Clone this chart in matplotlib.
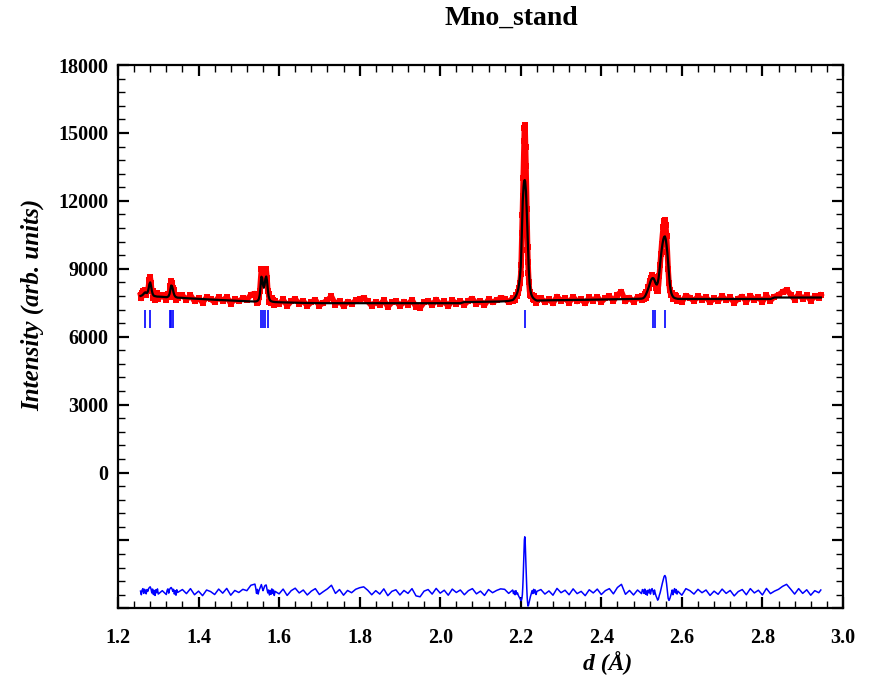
import numpy as np
import matplotlib.pyplot as plt
from matplotlib.ticker import MultipleLocator, FixedLocator, FixedFormatter

plt.rcParams['font.family'] = ['Liberation Serif', 'DejaVu Serif']
plt.rcParams['font.weight'] = 'bold'

# d-spacing grid (A), finer around the reflections
d_spacing = [
    # 1.28 group
    1.256, 1.258, 1.260, 1.262, 1.264, 1.266, 1.268, 1.270, 1.272, 1.274, 1.276, 1.278,
    1.280, 1.282, 1.284, 1.286, 1.288, 1.290, 1.292, 1.294, 1.296, 1.298, 1.300,
    1.310,
    # 1.33 group
    1.320, 1.322, 1.324, 1.326, 1.328, 1.330, 1.332, 1.334, 1.336, 1.338, 1.340, 1.342,
    1.344, 1.346, 1.348,
    1.36, 1.37, 1.38, 1.39, 1.40, 1.41, 1.42, 1.43, 1.44, 1.45, 1.46, 1.47, 1.48, 1.49,
    1.50, 1.51, 1.52, 1.53,
    # 1.56 doublet
    1.540, 1.542, 1.544, 1.546, 1.548, 1.550, 1.552, 1.554, 1.556, 1.558, 1.560, 1.562,
    1.564, 1.566, 1.568, 1.570, 1.572, 1.574, 1.576, 1.578, 1.580, 1.582, 1.584, 1.586,
    1.588, 1.590,
    1.60, 1.61, 1.62, 1.63, 1.64, 1.65, 1.66, 1.67, 1.68, 1.69, 1.70, 1.71, 1.72, 1.73,
    1.74, 1.75, 1.76, 1.77, 1.78, 1.79, 1.80, 1.81, 1.82, 1.83, 1.84, 1.85, 1.86, 1.87,
    1.88, 1.89, 1.90, 1.91, 1.92, 1.93, 1.94, 1.95, 1.96, 1.97, 1.98, 1.99, 2.00, 2.01,
    2.02, 2.03, 2.04, 2.05, 2.06, 2.07, 2.08, 2.09, 2.10, 2.11, 2.12, 2.13, 2.14, 2.15,
    2.16, 2.17,
    # main peak 2.21
    2.180, 2.182, 2.184, 2.186, 2.188, 2.190, 2.192, 2.194, 2.196, 2.198,
    2.200, 2.201, 2.202, 2.203, 2.204, 2.205, 2.206, 2.207, 2.208, 2.209, 2.210, 2.211,
    2.212, 2.213, 2.214, 2.215, 2.216, 2.217, 2.218, 2.219, 2.220,
    2.222, 2.224, 2.226, 2.228, 2.230, 2.232, 2.234, 2.236, 2.238, 2.240,
    2.25, 2.26, 2.27, 2.28, 2.29, 2.30, 2.31, 2.32, 2.33, 2.34, 2.35, 2.36, 2.37, 2.38,
    2.39, 2.40, 2.41, 2.42, 2.43, 2.44, 2.45, 2.46, 2.47, 2.48, 2.49,
    # 2.53 / 2.56 peaks
    2.500, 2.502, 2.504, 2.506, 2.508, 2.510, 2.512, 2.514, 2.516, 2.518,
    2.520, 2.522, 2.524, 2.526, 2.528, 2.530, 2.532, 2.534, 2.536, 2.538,
    2.540, 2.542, 2.544, 2.546, 2.548, 2.550, 2.552, 2.554, 2.556, 2.558,
    2.560, 2.562, 2.564, 2.566, 2.568, 2.570, 2.572, 2.574, 2.576, 2.578,
    2.580, 2.582, 2.584, 2.586, 2.588, 2.590,
    2.60, 2.61, 2.62, 2.63, 2.64, 2.65, 2.66, 2.67, 2.68, 2.69, 2.70, 2.71, 2.72, 2.73,
    2.74, 2.75, 2.76, 2.77, 2.78, 2.79, 2.80, 2.81, 2.82, 2.83, 2.84, 2.85, 2.86, 2.87,
    2.88, 2.89, 2.90, 2.91, 2.92, 2.93, 2.94, 2.945,
]

# calculated profile
i_calc = [
    7800, 7810, 7830, 7860, 7900, 7940, 7960, 7940, 7930, 7980, 8120, 8320,
    8400, 8250, 8040, 7900, 7830, 7800, 7790, 7780, 7775, 7770, 7770,
    7760,
    7745, 7750, 7765, 7800, 7890, 8080, 8260, 8240, 8110, 7950, 7840, 7780,
    7750, 7735, 7725,
    7715, 7700, 7690, 7680, 7670, 7660, 7650, 7640, 7632, 7625, 7615, 7605, 7598, 7590,
    7580, 7572, 7565, 7558,
    7555, 7560, 7565, 7580, 7610, 7680, 7850, 8250, 8650, 8600, 8300, 8160,
    8280, 8560, 8660, 8480, 8080, 7800, 7660, 7600, 7570, 7555, 7545, 7540,
    7535, 7530,
    7520, 7515, 7510, 7505, 7500, 7495, 7490, 7488, 7485, 7482, 7480, 7480, 7480, 7480,
    7480, 7480, 7480, 7480, 7480, 7480, 7480, 7480, 7480, 7480, 7480, 7480, 7480, 7480,
    7480, 7480, 7480, 7480, 7480, 7480, 7480, 7480, 7480, 7480, 7480, 7480, 7480, 7480,
    7480, 7480, 7480, 7480, 7530, 7530, 7532, 7535, 7538, 7540, 7542, 7545, 7550, 7555,
    7565, 7580,
    7620, 7650, 7690, 7740, 7800, 7880, 7980, 8120, 8350, 8650,
    9100, 9550, 10150, 10850, 11500, 12000, 12350, 12620, 12800, 12900, 12920, 12850,
    12650, 12400, 12000, 11500, 11000, 10450, 9900, 9400, 8950,
    8350, 8050, 7880, 7790, 7730, 7690, 7660, 7630, 7610, 7595,
    7600, 7605, 7608, 7610, 7612, 7615, 7618, 7620, 7622, 7625, 7628, 7630, 7632, 7635,
    7638, 7640, 7642, 7645, 7648, 7650, 7652, 7655, 7658, 7662, 7670,
    7680, 7690, 7700, 7730, 7770, 7830, 7910, 8000, 8100, 8200,
    8320, 8430, 8520, 8575, 8590, 8570, 8500, 8400, 8320, 8300,
    8380, 8560, 8850, 9200, 9550, 9850, 10100, 10300, 10410, 10430,
    10300, 10050, 9700, 9250, 8750, 8350, 8080, 7920, 7830, 7770,
    7730, 7710, 7695, 7685, 7675, 7670,
    7665, 7665, 7665, 7665, 7665, 7665, 7665, 7665, 7665, 7665, 7665, 7665, 7665, 7665,
    7665, 7665, 7665, 7665, 7665, 7665, 7665, 7665, 7665, 7730, 7730, 7730, 7730, 7730,
    7730, 7730, 7730, 7730, 7730, 7730, 7730, 7730,
]

# observed minus calculated
i_diff = [
    40, -120, 90, 150, -60, 120, 60, -80, 110, 30, 150, 200,
    230, 140, -40, 130, -110, 70, -150, 100, -30, 140, -90,
    60,
    -110, 80, 140, -50, 110, 170, 200, 150, 30, 120, -90, 60,
    -140, 100, -20,
    110, -70, 150, -120, 40, -160, 90, 20, -110, 130, -50, 160, -140, 70,
    -20, 120, 60, 300,
    350, 180, -60, 120, -90, 60, 150, 240, 330, 200, 60, 150,
    260, 300, 310, 120, -40, 90, -130, 70, -100, 140, -60, 90,
    -150, 30,
    -80, 130, -150, 60, 170, -40, 90, -130, 40, 150, -110, 20, 140, 300,
    -60, 110, -140, 70, -30, 120, 190, 230, 80, -120, 60, -90, 140, -160,
    30, 100, -130, 70, -60, 150, -170, -210, 40, 110, -90, 160, -50, 80,
    -140, 130, -20, 90, -120, 60, 150, -80, 40, -150, 110, -30, 70, 140,
    120, -60,
    90, -70, 40, -120, 60, -90, -40, -150, -220, -300,
    -350, -380, -330, -260, -120, 200, 650, 1250, 1850, 2300, 2440, 2250,
    1750, 1150, 600, 150, -250, -480, -620, -600, -520,
    -360, -200, -80, 60, -70, 120, -40, 90, -110, 30,
    110, -90, 50, -140, 160, -30, 80, -120, 140, -70, 30, -160, 100, -40,
    130, -110, 60, 150, -80, 200, 340, -100, 70, -130, 90,
    -70, 110, 90, -60, 130, -100, 50, -140, 80, -30,
    120, -90, 60, 150, 40, -110, 90, -60, -180, -260,
    -360, -300, -150, -40, 120, 260, 420, 560, 690, 730,
    650, 380, 50, -280, -370, -300, -180, -60, 90, -120,
    60, 150, -40, 110, -90, 40,
    -140, 150, 60, -90, 120, -30, 90, -150, 40, -100, 130, -60, 70, -170,
    20, 110, -120, 150, -40, 80, -130, 160, -70, 40, 120, 250, 340, 130,
    -90, 150, -60, 100, -140, 60, -30, 90,
]

bragg_pos = [1.2676, 1.2799, 1.328, 1.332, 1.336, 1.555, 1.561, 1.566, 1.572,
             2.2095, 2.5275, 2.5324, 2.558]

diff_offset = -5280

d = np.array(d_spacing)
calc = np.array(i_calc)
diff = np.array(i_diff)
obs = calc + diff

fig = plt.figure(figsize=(8.72, 6.76), dpi=100)
ax = fig.add_axes([0.1353, 0.1001, 0.8314, 0.8037])

ax.plot(d, obs, color='red', lw=4, marker='s', ms=5, mec='red', mew=0, zorder=2)
ax.plot(d, calc, color='black', lw=1.6, zorder=3)
ax.vlines(bragg_pos, 6400, 7200, color='blue', lw=1.2, zorder=3)
ax.plot(d, diff + diff_offset, color='blue', lw=1.1, zorder=3)

ax.set_xlim(1.2, 3.0)
ax.set_ylim(-6000, 18000)

ax.xaxis.set_major_locator(MultipleLocator(0.2))
ax.xaxis.set_minor_locator(MultipleLocator(0.04))
ax.xaxis.set_major_formatter(plt.FuncFormatter(lambda v, p: f"{v:.1f}"))

yt = [-6000, -3000, 0, 3000, 6000, 9000, 12000, 15000, 18000]
ax.yaxis.set_major_locator(FixedLocator(yt))
ax.yaxis.set_major_formatter(FixedFormatter([str(v) if v >= 0 else '' for v in yt]))
ax.yaxis.set_minor_locator(MultipleLocator(600))

ax.tick_params(which='both', direction='in', top=True, right=True, labelsize=14.5)
ax.tick_params(which='major', length=8, width=1.6, pad=7)
ax.tick_params(axis='x', which='major', pad=14)
ax.tick_params(which='minor', length=5, width=1.0)
for s in ax.spines.values():
    s.set_linewidth(1.6)

fig.text(0.586, 0.973, 'Mno_stand', ha='center', va='center', fontsize=20, fontweight='bold')
fig.text(0.037, 0.549, 'Intensity (arb. units)', rotation=90, ha='center', va='center',
         fontsize=18, fontweight='bold', fontstyle='italic')
fig.text(0.697, 0.019, 'd (Å)', ha='center', va='center', fontsize=17,
         fontweight='bold', fontstyle='italic')

fig.savefig('out.png', dpi=100)
